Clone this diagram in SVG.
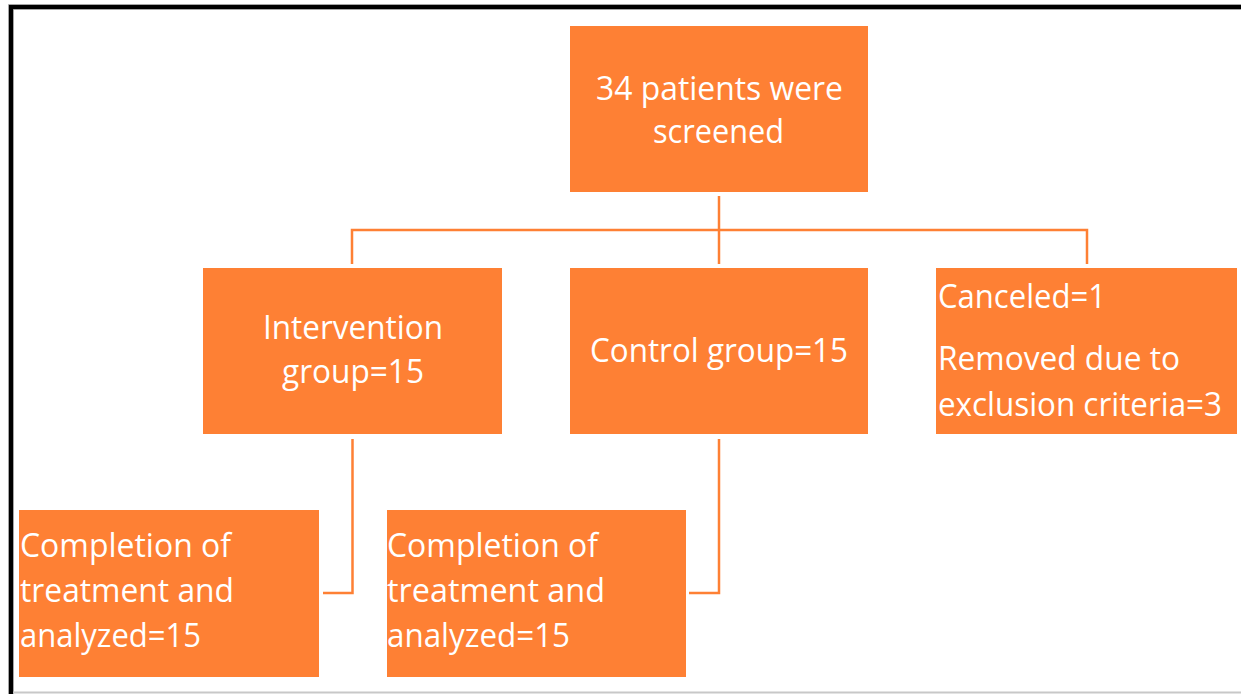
<svg xmlns="http://www.w3.org/2000/svg" width="1241" height="694" viewBox="0 0 1241 694">
<style>
.box{fill:#FE8034}
.t{fill:#FFFFFF;font-family:"Open Sans","Noto Sans",sans-serif;font-size:32px}
.c{fill:none;stroke:#FE8034;stroke-width:2.5}
</style>
<rect x="0" y="0" width="1241" height="694" fill="#FFFFFF"/>
<g id="frame">
<path d="M11,694 V7 H1241" fill="none" stroke="#888888" stroke-width="5.5"/>
<path d="M11,694 V7 H1241" fill="none" stroke="#000000" stroke-width="4"/>
<line x1="13" y1="692.5" x2="1241" y2="692.5" stroke="#C8C8C8" stroke-width="2"/>
</g>
<g id="connectors">
<path class="c" d="M719,196 V264"/>
<path class="c" d="M352,264 V230 H1087 V264"/>
<path class="c" d="M352.5,439 V593 H323"/>
<path class="c" d="M719,439 V593 H689"/>
</g>
<g id="screened">
<rect class="box" x="570" y="26" width="298" height="166"/>
<text class="t" x="596" y="100" textLength="247" lengthAdjust="spacingAndGlyphs">34 patients were</text>
<text class="t" x="653" y="143" textLength="131" lengthAdjust="spacingAndGlyphs">screened</text>
</g>
<g id="intervention">
<rect class="box" x="203" y="268" width="299" height="166"/>
<text class="t" x="263" y="339" textLength="180" lengthAdjust="spacingAndGlyphs">Intervention</text>
<text class="t" x="282" y="383" textLength="142" lengthAdjust="spacingAndGlyphs">group=15</text>
</g>
<g id="control">
<rect class="box" x="570" y="268" width="298" height="166"/>
<text class="t" x="590" y="362" textLength="258" lengthAdjust="spacingAndGlyphs">Control group=15</text>
</g>
<g id="excluded">
<rect class="box" x="936" y="268" width="301" height="166"/>
<text class="t" x="938" y="308" textLength="168" lengthAdjust="spacingAndGlyphs">Canceled=1</text>
<text class="t" x="938" y="370" textLength="242" lengthAdjust="spacingAndGlyphs">Removed due to</text>
<text class="t" x="938" y="416" textLength="284" lengthAdjust="spacingAndGlyphs">exclusion criteria=3</text>
</g>
<g id="completion-intervention">
<rect class="box" x="19" y="510" width="300" height="167"/>
<text class="t" x="20" y="557" textLength="211" lengthAdjust="spacingAndGlyphs">Completion of</text>
<text class="t" x="20" y="602" textLength="214" lengthAdjust="spacingAndGlyphs">treatment and</text>
<text class="t" x="20" y="647" textLength="181" lengthAdjust="spacingAndGlyphs">analyzed=15</text>
</g>
<g id="completion-control">
<rect class="box" x="387" y="510" width="299" height="167"/>
<text class="t" x="387" y="557" textLength="211" lengthAdjust="spacingAndGlyphs">Completion of</text>
<text class="t" x="387" y="602" textLength="218" lengthAdjust="spacingAndGlyphs">treatment and</text>
<text class="t" x="387" y="647" textLength="183" lengthAdjust="spacingAndGlyphs">analyzed=15</text>
</g>
</svg>
